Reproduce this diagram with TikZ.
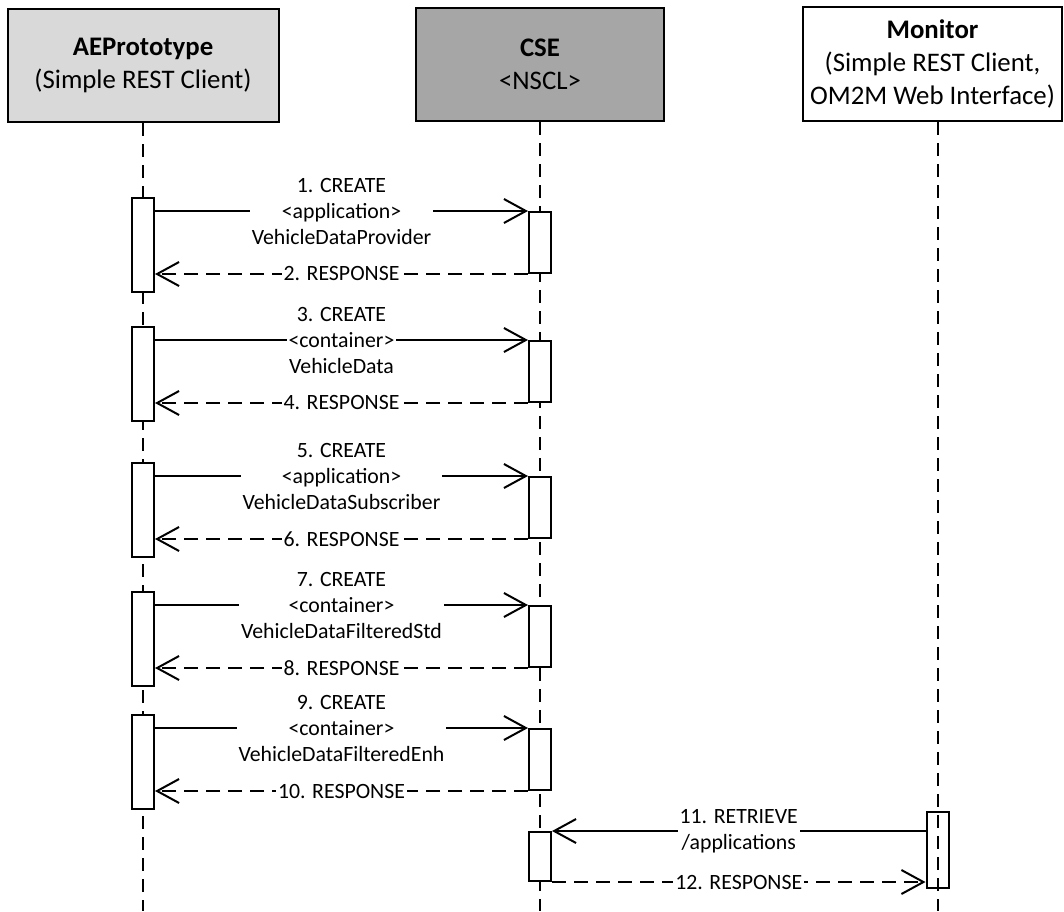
\documentclass[tikz,border=0pt]{standalone}
\usepackage{fontspec}
\setmainfont{Carlito}
\usepackage{tikz}
\usetikzlibrary{arrows.meta,positioning,calc}
\definecolor{aegray}{HTML}{D9D9D9}
\definecolor{csegray}{HTML}{A6A6A6}
\tikzset{
  headbox/.style={
    rectangle, draw=black, fill=#1, line width=1pt,
    minimum height=56.5pt, align=center, inner sep=2pt,
    font=\fontsize{13.4}{16.5}\selectfont
  },
  headbox/.default=white,
  lifeline/.style={line width=1pt, dash pattern=on 6.5pt off 4pt},
  actbar/.style={rectangle, draw=black, fill=white, line width=1pt,
    minimum width=11pt, inner sep=0pt, anchor=north},
  callmsg/.style={-{Straight Barb[length=11pt, width=12pt]}, line width=1pt},
  replymsg/.style={callmsg, dash pattern=on 7pt off 4pt},
  msglabel/.style={fill=white, inner xsep=1pt, inner ysep=0pt, align=center,
    font=\fontsize{10.9}{13}\selectfont},
}

\begin{document}
\begin{tikzpicture}[x=0.5pt, y=-0.5pt]
  \useasboundingbox (0,0) rectangle (1064,911);
  % participants
  \node[headbox=aegray, minimum width=135.5pt] (ae) at (143,65.5) {\textbf{AEPrototype}\\(Simple REST Client)};
  \node[headbox=csegray, minimum width=124pt] (cse) at (540,64.5) {\textbf{CSE}\\<NSCL>};
  \node[headbox, minimum width=129.5pt, minimum height=57pt] (mon) at (932.5,64) {\textbf{Monitor}\\(Simple REST Client,\\OM2M Web Interface)};
  \coordinate (aeEnd) at (143,911);
  \coordinate (cseEnd) at (540,911);
  \coordinate (monEnd) at (937.5,911);
  \draw[lifeline] (ae.south) -- (aeEnd);
  \draw[lifeline] (cse.south) -- (cseEnd);
  \draw[lifeline] (mon.south -| monEnd) -- (monEnd);
  % activations
  \node[actbar, minimum height=47pt] (a1) at (143,197) {};
  \node[actbar, minimum height=30.5pt] (c1) at (540,211) {};
  \node[actbar, minimum height=47pt] (a2) at (143,326) {};
  \node[actbar, minimum height=30.5pt] (c2) at (540,340) {};
  \node[actbar, minimum height=47pt] (a3) at (143,462) {};
  \node[actbar, minimum height=30.5pt] (c3) at (540,476) {};
  \node[actbar, minimum height=47pt] (a4) at (143,591) {};
  \node[actbar, minimum height=30.5pt] (c4) at (540,605) {};
  \node[actbar, minimum height=47pt] (a5) at (143,714) {};
  \node[actbar, minimum height=30.5pt] (c5) at (540,728) {};
  \node[actbar, fill=none, minimum height=38pt] (m6) at (937.5,811) {};
  \node[actbar, minimum height=24.5pt] (c6) at (540,831) {};
  % messages
  \draw[callmsg] (a1.east |- c1.north) -- (c1.north west) node[msglabel, midway] {1. CREATE\\<application>\\VehicleDataProvider};
  \draw[replymsg] (c1.south west) -- (a1.east |- c1.south) node[msglabel, midway] {2. RESPONSE};
  \draw[callmsg] (a2.east |- c2.north) -- (c2.north west) node[msglabel, midway] {3. CREATE\\<container>\\VehicleData};
  \draw[replymsg] (c2.south west) -- (a2.east |- c2.south) node[msglabel, midway] {4. RESPONSE};
  \draw[callmsg] (a3.east |- c3.north) -- (c3.north west) node[msglabel, midway] {5. CREATE\\<application>\\VehicleDataSubscriber};
  \draw[replymsg] (c3.south west) -- (a3.east |- c3.south) node[msglabel, midway] {6. RESPONSE};
  \draw[callmsg] (a4.east |- c4.north) -- (c4.north west) node[msglabel, midway] {7. CREATE\\<container>\\VehicleDataFilteredStd};
  \draw[replymsg] (c4.south west) -- (a4.east |- c4.south) node[msglabel, midway] {8. RESPONSE};
  \draw[callmsg] (a5.east |- c5.north) -- (c5.north west) node[msglabel, midway] {9. CREATE\\<container>\\VehicleDataFilteredEnh};
  \draw[replymsg] (c5.south west) -- (a5.east |- c5.south) node[msglabel, midway] {10. RESPONSE};
  \draw[callmsg] (m6.west |- c6.north) -- (c6.north east) node[msglabel, midway] {11. RETRIEVE\\/applications};
  \draw[replymsg] (c6.south east) -- (m6.west |- c6.south) node[msglabel, midway] {12. RESPONSE};
\end{tikzpicture}
\end{document}
